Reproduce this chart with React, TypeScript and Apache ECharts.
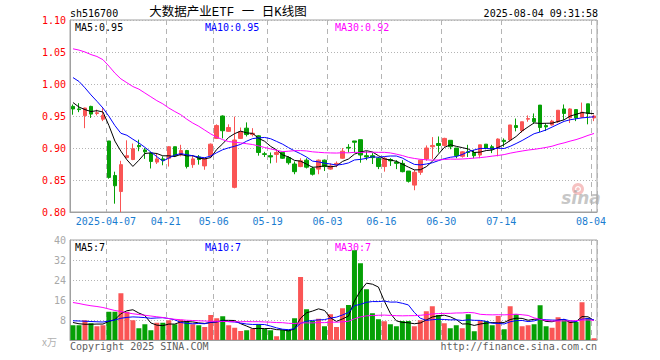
import React, { useEffect, useRef } from "react";
import * as echarts from "echarts";

const dates = [
  "2025-03-27", "2025-03-28", "2025-03-31", "2025-04-01", "2025-04-02", "2025-04-03",
  "2025-04-07", "2025-04-08", "2025-04-09", "2025-04-10", "2025-04-11",
  "2025-04-14", "2025-04-15", "2025-04-16", "2025-04-17", "2025-04-18",
  "2025-04-21", "2025-04-22", "2025-04-23", "2025-04-24", "2025-04-25",
  "2025-04-28", "2025-04-29", "2025-04-30",
  "2025-05-06", "2025-05-07", "2025-05-08", "2025-05-09",
  "2025-05-12", "2025-05-13", "2025-05-14", "2025-05-15", "2025-05-16",
  "2025-05-19", "2025-05-20", "2025-05-21", "2025-05-22", "2025-05-23",
  "2025-05-26", "2025-05-27", "2025-05-28", "2025-05-29", "2025-05-30",
  "2025-06-03", "2025-06-04", "2025-06-05", "2025-06-06",
  "2025-06-09", "2025-06-10", "2025-06-11", "2025-06-12", "2025-06-13",
  "2025-06-16", "2025-06-17", "2025-06-18", "2025-06-19", "2025-06-20",
  "2025-06-23", "2025-06-24", "2025-06-25", "2025-06-26", "2025-06-27",
  "2025-06-30", "2025-07-01", "2025-07-02", "2025-07-03", "2025-07-04",
  "2025-07-07", "2025-07-08", "2025-07-09", "2025-07-10", "2025-07-11",
  "2025-07-14", "2025-07-15", "2025-07-16", "2025-07-17", "2025-07-18",
  "2025-07-21", "2025-07-22", "2025-07-23", "2025-07-24", "2025-07-25",
  "2025-07-28", "2025-07-29", "2025-07-30", "2025-07-31", "2025-08-01",
  "2025-08-04",
];

const opens = [
  0.965, 0.961, 0.9505, 0.965, 0.954, 0.945, 0.911, 0.857, 0.832, 0.885,
  0.882, 0.904, 0.897, 0.892, 0.878, 0.883, 0.884, 0.902, 0.889, 0.896,
  0.874, 0.886, 0.872, 0.888, 0.915, 0.950, 0.926, 0.8385, 0.915, 0.931,
  0.921, 0.919, 0.891, 0.888, 0.890, 0.893, 0.885, 0.875, 0.871, 0.881,
  0.868, 0.867, 0.881, 0.867, 0.874, 0.884, 0.901, 0.911, 0.913, 0.888,
  0.888, 0.884, 0.871, 0.882, 0.878, 0.876, 0.864, 0.842, 0.862, 0.883,
  0.902, 0.907, 0.904, 0.912, 0.900, 0.887, 0.894, 0.893, 0.889, 0.906,
  0.902, 0.900, 0.912, 0.9125, 0.935, 0.927, 0.945, 0.946, 0.967, 0.935,
  0.936, 0.941, 0.961, 0.947, 0.960, 0.948, 0.969, 0.947,
];
const closes = [
  0.961, 0.960, 0.9625, 0.953, 0.955, 0.951, 0.854, 0.841, 0.874, 0.888,
  0.899, 0.902, 0.894, 0.879, 0.883, 0.881, 0.902, 0.888, 0.896, 0.871,
  0.883, 0.882, 0.883, 0.906, 0.935, 0.927, 0.932, 0.9125, 0.9255, 0.921,
  0.923, 0.893, 0.890, 0.886, 0.893, 0.884, 0.877, 0.863, 0.880, 0.870,
  0.859, 0.881, 0.871, 0.872, 0.876, 0.895, 0.900, 0.909, 0.889, 0.886,
  0.885, 0.871, 0.884, 0.880, 0.876, 0.863, 0.848, 0.862, 0.881, 0.900,
  0.904, 0.904, 0.915, 0.902, 0.888, 0.894, 0.893, 0.888, 0.905, 0.900,
  0.898, 0.914, 0.910, 0.936, 0.932, 0.941, 0.946, 0.941, 0.932, 0.933,
  0.942, 0.959, 0.954, 0.961, 0.947, 0.956, 0.954, 0.950,
];
const lows = [
  0.952, 0.956, 0.931, 0.947, 0.951, 0.942, 0.852, 0.813, 0.800, 0.884,
  0.881, 0.895, 0.883, 0.868, 0.875, 0.873, 0.871, 0.886, 0.887, 0.868,
  0.869, 0.874, 0.866, 0.885, 0.914, 0.915, 0.925, 0.837, 0.914, 0.918,
  0.918, 0.888, 0.886, 0.876, 0.877, 0.883, 0.874, 0.859, 0.870, 0.868,
  0.857, 0.859, 0.864, 0.866, 0.870, 0.883, 0.893, 0.893, 0.877, 0.881,
  0.875, 0.867, 0.863, 0.872, 0.867, 0.862, 0.846, 0.834, 0.858, 0.880,
  0.883, 0.893, 0.902, 0.898, 0.884, 0.885, 0.886, 0.884, 0.884, 0.898,
  0.892, 0.887, 0.902, 0.910, 0.926, 0.924, 0.941, 0.938, 0.925, 0.9265,
  0.935, 0.939, 0.944, 0.939, 0.942, 0.947, 0.937, 0.942,
];
const highs = [
  0.968, 0.970, 0.963, 0.966, 0.960, 0.962, 0.911, 0.863, 0.880, 0.912,
  0.907, 0.913, 0.900, 0.893, 0.892, 0.887, 0.903, 0.902, 0.905, 0.897,
  0.889, 0.889, 0.884, 0.907, 0.937, 0.951, 0.937, 0.949, 0.932, 0.940,
  0.931, 0.920, 0.894, 0.893, 0.897, 0.894, 0.887, 0.879, 0.884, 0.884,
  0.871, 0.882, 0.882, 0.876, 0.879, 0.900, 0.906, 0.911, 0.913, 0.895,
  0.892, 0.886, 0.886, 0.884, 0.881, 0.881, 0.864, 0.866, 0.882, 0.904,
  0.917, 0.918, 0.916, 0.912, 0.900, 0.895, 0.905, 0.897, 0.905, 0.906,
  0.905, 0.915, 0.915, 0.936, 0.946, 0.941, 0.951, 0.954, 0.967, 0.9385,
  0.944, 0.959, 0.968, 0.962, 0.960, 0.971, 0.969, 0.952,
];

// volume, in 万
const volumes = [
  5.9, 5.9, 7.9, 6.7, 5.5, 5.9, 11.3, 11.3, 18.7, 11.3,
  7.9, 4.7, 6.3, 3.9, 6.9, 6.9, 7.9, 6.3, 8.1, 7.6,
  6.3, 5.9, 5.2, 10.0, 8.7, 9.5, 5.9, 4.9, 3.6, 3.9,
  4.5, 6.3, 4.5, 3.9, 1.5, 4.1, 4.1, 8.7, 25.2, 12.3,
  7.6, 8.5, 5.5, 10.3, 5.2, 12.7, 14.0, 35.9, 30.7, 20.3,
  10.7, 8.3, 7.5, 6.3, 5.5, 7.6, 7.6, 5.5, 7.9, 11.5,
  13.5, 10.0, 6.7, 4.7, 5.9, 4.7, 10.3, 3.5, 7.6, 7.6,
  5.9, 9.6, 4.3, 13.5, 10.3, 5.5, 5.9, 6.3, 13.9, 5.5,
  4.9, 9.1, 7.9, 7.5, 7.2, 15.1, 8.7, 0.7,
];

// moving-average values for days whose window starts before the first shown day
const priceMa5Head = [0.971, 0.964, 0.960, 0.957];
const priceMa10Head = [1.010, 1.004, 0.994, 0.983, 0.973, 0.9625, 0.9495, 0.935, 0.923];
const priceMa30Head = [
  1.055, 1.053, 1.050, 1.046, 1.043, 1.038, 1.028, 1.017, 1.008, 1.002,
  0.996, 0.992, 0.986, 0.980, 0.974, 0.969, 0.9625, 0.957, 0.952, 0.945,
  0.939, 0.934, 0.928, 0.922, 0.917, 0.913, 0.910, 0.909, 0.908,
];
const volMa5Head = [7.0, 6.5, 6.3, 6.3];
const volMa10Head = [7.7, 7.6, 7.5, 7.4, 7.3, 7.2, 7.6, 8.0, 8.7];
const volMa30Head = [
  15.0, 14.6, 14.1, 13.7, 13.4, 13.0, 12.4, 11.8, 11.4, 10.9,
  10.5, 10.2, 9.9, 9.6, 9.3, 9.0, 8.6, 8.3, 8.1, 7.9,
  7.8, 7.7, 7.6, 7.5, 7.5, 7.4, 7.4, 7.3, 7.3,
];

const tickDates = [
  "2025-04-07", "2025-04-21", "2025-05-06", "2025-05-19", "2025-06-03",
  "2025-06-16", "2025-06-30", "2025-07-14", "2025-08-04",
];
const tickTexts = ["2025-04-07", "04-21", "05-06", "05-19", "06-03", "06-16", "06-30", "07-14", "08-04"];

const priceLegend = ["MA5:0.95", "MA10:0.95", "MA30:0.92"];
const volLegend = ["MA5:7", "MA10:7", "MA30:7"];

const RED = "#fa5555";
const GREEN = "#05a005";
const MONO = '"DejaVu Sans Mono", "Liberation Mono", monospace';
const FRAME = "#a0a0a0";
const GRIDC = "#b4b4b4";

function movingAverage(values: number[], n: number, head: number[]) {
  return values.map((_, i) => {
    if (i < n - 1) return head[i];
    let s = 0;
    for (let k = i - n + 1; k <= i; k++) s += values[k];
    return +(s / n).toFixed(4);
  });
}

export default function App() {
  const ref = useRef<HTMLDivElement>(null);
  useEffect(() => {
    if (!ref.current) return;
    const chart = echarts.init(ref.current, undefined, { renderer: "svg" });
    const candleData = dates.map((_, i) => [opens[i], closes[i], lows[i], highs[i]]);
    const volData = volumes.map((v, i) => ({
      value: v,
      itemStyle: { color: closes[i] >= opens[i] ? RED : GREEN },
    }));
    const isTick = (_idx: number, value: string) => tickDates.indexOf(value) >= 0;
    const splitX = {
      show: true,
      interval: (idx: number) => tickDates.indexOf(dates[idx]) >= 0,
      lineStyle: { color: GRIDC, type: [5, 4], width: 1 },
    };
    const lineSeries = (name: string, data: number[], color: string, axis: number) => ({
      name,
      type: "line",
      xAxisIndex: axis,
      yAxisIndex: axis,
      data,
      showSymbol: false,
      symbol: "none",
      lineStyle: { color, width: 1 },
      z: 5,
      silent: true,
    });
    const txt = (text: string, x: number, y: number, fill: string, align = "left", font = `10px ${MONO}`) => ({
      type: "text",
      x,
      y,
      silent: true,
      style: { text, fill, font, align, verticalAlign: "middle" },
    });
    chart.setOption({
      animation: false,
      backgroundColor: "#ffffff",
      grid: [
        { left: 70, top: 20, width: 527, height: 192, show: true, borderColor: FRAME, borderWidth: 1 },
        { left: 70, top: 240, width: 527, height: 100, show: true, borderColor: FRAME, borderWidth: 1 },
      ],
      xAxis: [
        {
          type: "category",
          gridIndex: 0,
          data: dates,
          boundaryGap: true,
          axisLine: { lineStyle: { color: FRAME } },
          axisTick: { show: false },
          axisLabel: {
            interval: isTick,
            formatter: (v: string) => {
              const k = tickDates.indexOf(v);
              return k >= 0 ? tickTexts[k] : "";
            },
            color: "#1a7dd0",
            fontFamily: MONO,
            fontSize: 10,
            margin: 4,
            padding: [0, 6, 0, 0],
          },
          splitLine: splitX,
        },
        {
          type: "category",
          gridIndex: 1,
          data: dates,
          boundaryGap: true,
          axisLine: { lineStyle: { color: FRAME } },
          axisTick: { show: false },
          axisLabel: { show: false },
          splitLine: splitX,
        },
      ],
      yAxis: [
        {
          type: "value",
          gridIndex: 0,
          min: 0.8,
          max: 1.1,
          interval: 0.05,
          axisLine: { show: true, lineStyle: { color: FRAME } },
          axisTick: { show: false },
          axisLabel: {
            color: "#ff0000",
            fontFamily: MONO,
            fontSize: 10,
            margin: 4,
            formatter: (v: number) => v.toFixed(2),
          },
          splitLine: { lineStyle: { color: GRIDC, type: [1, 2] } },
        },
        {
          type: "value",
          gridIndex: 1,
          min: 0,
          max: 40,
          interval: 8,
          axisLine: { show: true, lineStyle: { color: FRAME } },
          axisTick: { show: false },
          axisLabel: {
            color: "#a8a8a8",
            fontFamily: MONO,
            fontSize: 10,
            margin: 4,
            formatter: (v: number) => (v === 0 ? "" : String(v)),
          },
          splitLine: { lineStyle: { color: GRIDC, type: [1, 2] } },
        },
      ],
      series: [
        {
          type: "candlestick",
          xAxisIndex: 0,
          yAxisIndex: 0,
          data: candleData,
          barWidth: 4,
          itemStyle: {
            color: RED,
            color0: GREEN,
            borderColor: RED,
            borderColor0: GREEN,
            borderWidth: 1,
          },
          silent: true,
          z: 3,
        },
        lineSeries("MA5", movingAverage(closes, 5, priceMa5Head), "#000000", 0),
        lineSeries("MA10", movingAverage(closes, 10, priceMa10Head), "#0000ff", 0),
        lineSeries("MA30", movingAverage(closes, 30, priceMa30Head), "#ff00ff", 0),
        {
          type: "bar",
          xAxisIndex: 1,
          yAxisIndex: 1,
          data: volData,
          barWidth: 5,
          silent: true,
          z: 3,
        },
        lineSeries("VMA5", movingAverage(volumes, 5, volMa5Head), "#000000", 1),
        lineSeries("VMA10", movingAverage(volumes, 10, volMa10Head), "#0000ff", 1),
        lineSeries("VMA30", movingAverage(volumes, 30, volMa30Head), "#ff00ff", 1),
      ],
      graphic: [
        txt("sh516700", 70, 13, "#000000"),
        txt("大数据产业ETF 一 日K线图", 228, 13, "#000000", "center", '12.5px "Liberation Mono", "Noto Sans CJK SC", sans-serif'),
        txt("2025-08-04 09:31:58", 598, 13, "#000000", "right"),
        txt(priceLegend[0], 75, 27, "#000000"),
        txt(priceLegend[1], 205, 27, "#0000ff"),
        txt(priceLegend[2], 335, 27, "#ff00ff"),
        txt(volLegend[0], 75, 247, "#000000"),
        txt(volLegend[1], 205, 247, "#0000ff"),
        txt(volLegend[2], 335, 247, "#ff00ff"),
        txt("x万", 57, 341, "#b0b0b0", "right", '10px "Noto Sans CJK SC", sans-serif'),
        txt("Copyright 2025 SINA.COM", 70, 346, "#606060"),
        txt("http://finance.sina.com.cn", 597, 346, "#606060", "right"),
        {
          type: "ring",
          silent: true,
          shape: { cx: 578, cy: 189, r: 6, r0: 3 },
          style: { fill: "rgba(235,120,120,0.45)" },
        },
        {
          type: "circle",
          silent: true,
          shape: { cx: 578, cy: 189, r: 1.8 },
          style: { fill: "rgba(235,120,120,0.45)" },
        },
        {
          type: "text",
          x: 581,
          y: 198,
          silent: true,
          style: {
            text: "sina",
            fill: "rgba(150,150,150,0.55)",
            font: 'italic bold 17px "DejaVu Sans", sans-serif',
            align: "center",
            verticalAlign: "middle",
          },
        },
      ],
    });
    return () => chart.dispose();
  }, []);
  return (
    <div
      ref={ref}
      style={{ position: "fixed", left: 0, top: 0, width: 660, height: 360, background: "#fff" }}
    />
  );
}
